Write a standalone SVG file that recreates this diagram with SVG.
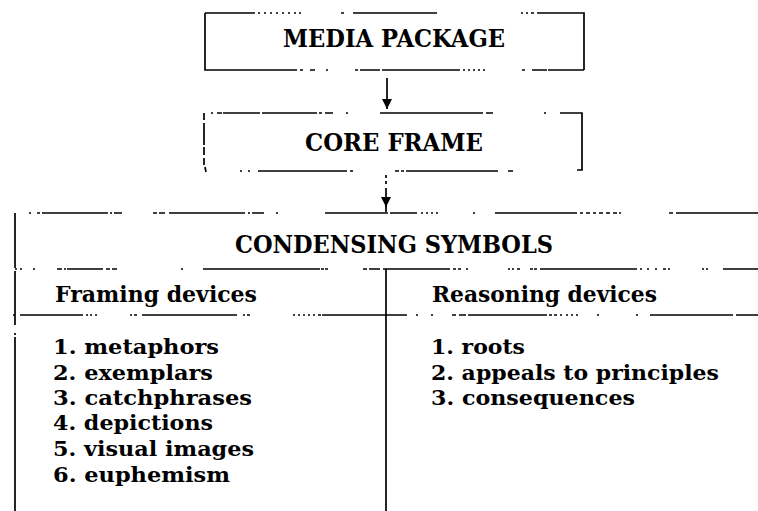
<svg xmlns="http://www.w3.org/2000/svg" width="758" height="511" viewBox="0 0 758 511">
  <style>
    .ln { fill: none; stroke: #000; stroke-width: 1.7; stroke-linecap: butt; }
    .h { font-family: "DejaVu Serif", "Liberation Serif", serif; font-weight: bold; font-size: 25px; fill: #000; }
    .sh { font-family: "DejaVu Serif", "Liberation Serif", serif; font-weight: bold; font-size: 23px; fill: #000; }
    .it { font-family: "DejaVu Serif", "Liberation Serif", serif; font-weight: bold; font-size: 20px; fill: #000; }
  </style>
  <defs>
    <marker id="ah" viewBox="0 0 10 10" refX="10" refY="5" markerWidth="11" markerHeight="10" markerUnits="userSpaceOnUse" orient="auto">
      <path d="M0,0 L10,5 L0,10 z" fill="#000"/>
    </marker>
  </defs>
  <rect width="758" height="511" fill="#fff"/>

  <g id="media-package">
    <path class="ln" d="M205 13 H255 M258 13 h2 M264 13 h2 M270 13 h2 M276 13 h2 M282 13 h2 M288 13 h2 M294 13 h2 M299 13 h2 M341 13 h3 M353 13 H437 M521 13 h2 M526 13 h2 M531 13 h3 M537 13 H584 V70 M205 13 V70 H297 M300 70 h3 M310 70 h5 M326 70 h2 M355 70 h3 M360 70 H380 M382 70 H460 M463 70 h2 M468 70 h2 M473 70 h2 M478 70 h2 M483 70 h2 M522 70 h3 M532 70 H547 M548 70 H584"/>
    <text class="h" x="283" y="47" textLength="222" lengthAdjust="spacingAndGlyphs">MEDIA PACKAGE</text>
  </g>

  <g id="core-frame">
    <path class="ln" d="M211 113 h2 M217 113 h5 M223 113 H260 M262 113 H317 M319 113 h3 M325 113 h8 M346 113 h2 M380 113 H483 M486 113 h7 M544 113 h2 M560 113 H582 V170 h-5 M240 171 h2 M248 171 h2 M258 171 H347 M350 171 h3 M395 171 h4 M401 171 h3 M406 171 H498 M508 171 h5 M204 113 V120 M204 123 V145 M204 147 V155 M204 158 V165 M205 167 l1 5"/>
    <text class="h" x="305" y="151" textLength="178" lengthAdjust="spacingAndGlyphs">CORE FRAME</text>
  </g>

  <g id="condensing-symbols">
    <path class="ln" d="M29 213 h2 M37 213 h3 M42 213 H108 M110 213 h2 M114 213 h8 M153 213 h4 M159 213 h6 M169 213 H245 M248 213 h2 M252 213 h12 M276 213 h2 M325 213 H388 M390 213 H417 M421 213 h2 M426 213 h2 M431 213 h2 M436 213 h2 M473 213 h2 M495 213 H577 M580 213 h3 M586 213 h4 M593 213 h3 M599 213 h4 M606 213 h4 M613 213 h4 M619 213 h2 M669 213 h4 M676 213 H758 M15 213 V268 M15 271 V325 M15 333 v2 M15 337 V511"/>
    <path class="ln" d="M15 269 h2 M20 269 h2 M33 269 h2 M57 269 h5 M64 269 h2 M67 269 H103 M106 269 h4 M112 269 h5 M181 269 h2 M203 269 H320 M321 269 h3 M325 269 h3 M363 269 h4 M369 269 H380 M383 269 H450 M453 269 h3 M458 269 h3 M466 269 h2 M508 269 h2 M512 269 h2 M517 269 h3 M530 269 h3 M534 269 h3 M540 269 H637 M640 269 h2 M647 269 h2 M655 269 h2 M663 269 h3 M668 269 h2 M702 269 h2 M706 269 h2 M723 269 H758"/>
    <text class="h" x="235" y="253" textLength="318" lengthAdjust="spacingAndGlyphs">CONDENSING SYMBOLS</text>
  </g>

  <g id="framing-devices">
    <path class="ln" d="M13 315 h2 M20 315 H83 M86 315 h2 M90 315 h2 M95 315 h2 M130 315 h2 M134 315 h3 M142 315 H237 M243 315 h2 M247 315 h3 M293 315 h2 M298 315 h2 M303 315 h2 M308 315 h2 M313 315 h2 M318 315 h3 M322 315 H386"/>
    <text class="sh" x="55" y="302" textLength="202" lengthAdjust="spacingAndGlyphs">Framing devices</text>
    <text class="it" x="53" y="354" textLength="166" lengthAdjust="spacingAndGlyphs">1. metaphors</text>
    <text class="it" x="53" y="380" textLength="160" lengthAdjust="spacingAndGlyphs">2. exemplars</text>
    <text class="it" x="53" y="405" textLength="199" lengthAdjust="spacingAndGlyphs">3. catchphrases</text>
    <text class="it" x="53" y="430" textLength="160" lengthAdjust="spacingAndGlyphs">4. depictions</text>
    <text class="it" x="53" y="456" textLength="201" lengthAdjust="spacingAndGlyphs">5. visual images</text>
    <text class="it" x="53" y="482" textLength="177" lengthAdjust="spacingAndGlyphs">6. euphemism</text>
  </g>

  <g id="reasoning-devices">
    <path class="ln" d="M386 315 H407 M416 315 h2 M431 315 h2 M452 315 h4 M459 315 h7 M468 315 H547 M549 315 h3 M554 315 h3 M560 315 h2 M566 315 h2 M571 315 h2 M576 315 h2 M597 315 h2 M636 315 h2 M650 315 H733 M736 315 H758 M386 269 V511"/>
    <text class="sh" x="432" y="302" textLength="225" lengthAdjust="spacingAndGlyphs">Reasoning devices</text>
    <text class="it" x="431" y="354" textLength="94" lengthAdjust="spacingAndGlyphs">1. roots</text>
    <text class="it" x="431" y="380" textLength="288" lengthAdjust="spacingAndGlyphs">2. appeals to principles</text>
    <text class="it" x="431" y="405" textLength="204" lengthAdjust="spacingAndGlyphs">3. consequences</text>
  </g>

  <g id="connectors">
    <path class="ln" d="M387 78 V109" marker-end="url(#ah)"/>
    <path class="ln" d="M386 175 v3 M386 181 v3"/>
    <path class="ln" d="M386 188 V207" marker-end="url(#ah)"/>
    <path class="ln" d="M386 206 V212"/>
  </g>
</svg>
